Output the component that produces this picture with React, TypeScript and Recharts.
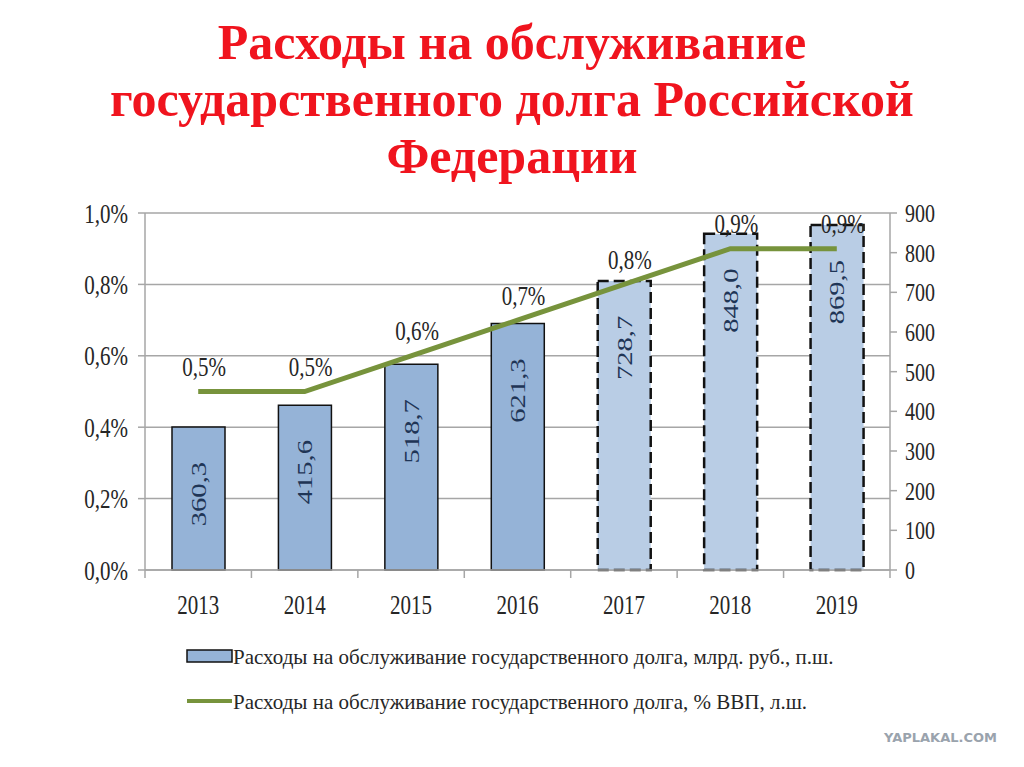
import React from "react";
import {
  ComposedChart,
  Bar,
  Line,
  XAxis,
  YAxis,
  CartesianGrid,
  LabelList,
  Rectangle,
} from "recharts";

const YEARS = ["2013", "2014", "2015", "2016", "2017", "2018", "2019"];
const SPENDING = [360.3, 415.6, 518.7, 621.3, 728.7, 848.0, 869.5];
const SHARE_GDP = [0.5, 0.5, 0.6, 0.7, 0.8, 0.9, 0.9];
const FORECAST = [false, false, false, false, true, true, true];

const PCT_TICKS = [0, 0.2, 0.4, 0.6, 0.8, 1.0];
const RUB_TICKS = [0, 100, 200, 300, 400, 500, 600, 700, 800, 900];

const TITLE = [
  "Расходы на обслуживание",
  "государственного долга Российской",
  "Федерации",
];
const LEGEND_BAR = "Расходы на обслуживание государственного долга, млрд. руб., п.ш.";
const LEGEND_LINE = "Расходы на обслуживание государственного долга, % ВВП, л.ш.";

const data = YEARS.map((year, i) => ({
  year,
  spending: SPENDING[i],
  share: SHARE_GDP[i],
  forecast: FORECAST[i],
}));

const W = 1024;
const H = 767;
const PLOT_LEFT = 145;
const PLOT_RIGHT = 890;
const PLOT_TOP = 213;
const PLOT_BOTTOM = 570;
const BAND = (PLOT_RIGHT - PLOT_LEFT) / YEARS.length;

const SERIF = "'Liberation Serif', 'Times New Roman', serif";
const GRID = "#a6a6a6";
const STRETCH = 1.3;

const comma = (v: number, digits: number) => v.toFixed(digits).replace(".", ",");

// text squeezed like the original (tall, narrow glyphs)
function Txt({ x, y, children, anchor = "middle", size = 21, fill = "#262626", stretch = STRETCH }: any) {
  return (
    <text
      transform={`translate(${x},${y}) scale(1,${stretch})`}
      textAnchor={anchor}
      dominantBaseline="central"
      fontFamily={SERIF}
      fontSize={size}
      fill={fill}
    >
      {children}
    </text>
  );
}

function YearTick({ x, y, payload, index }: any) {
  const last = index === YEARS.length - 1;
  return (
    <g>
      <line x1={x - BAND / 2} x2={x - BAND / 2} y1={y} y2={y + 8} stroke={GRID} strokeWidth={1.5} />
      {last && (
        <line x1={x + BAND / 2} x2={x + BAND / 2} y1={y} y2={y + 8} stroke={GRID} strokeWidth={1.5} />
      )}
      <Txt x={x} y={y + 34} size={21}>
        {payload.value}
      </Txt>
    </g>
  );
}

function PctTick({ x, y, payload }: any) {
  return (
    <Txt x={x} y={y} anchor="end" size={21}>
      {comma(payload.value, 1) + "%"}
    </Txt>
  );
}

function RubTick({ x, y, payload }: any) {
  return (
    <Txt x={x} y={y} anchor="start" size={20}>
      {payload.value}
    </Txt>
  );
}

function BarValue({ x, y, width, value }: any) {
  const cx = x + width / 2;
  const cy = y + 67;
  return (
    <text
      transform={`translate(${cx},${cy}) rotate(-90) scale(${STRETCH},1)`}
      textAnchor="middle"
      dominantBaseline="central"
      fontFamily={SERIF}
      fontSize={22}
      fill="#1f3556"
    >
      {comma(value, 1)}
    </text>
  );
}

function ShareValue({ x, y, value }: any) {
  return (
    <Txt x={x + 6} y={y - 25} size={21}>
      {comma(value, 1) + "%"}
    </Txt>
  );
}

function BarShape(props: any) {
  const f = props.payload.forecast;
  return (
    <Rectangle
      x={props.x}
      y={props.y}
      width={props.width}
      height={props.height}
      fill={f ? "#b9cde5" : "#95b3d7"}
      stroke="#111"
      strokeWidth={f ? 2.5 : 1.5}
      strokeDasharray={f ? "11 5" : undefined}
    />
  );
}

export default function App() {
  return (
    <div style={{ position: "absolute", left: 0, top: 0, width: W, height: H, background: "#fff" }}>
      <div
        style={{
          position: "absolute",
          left: 0,
          top: 14,
          width: W,
          textAlign: "center",
          fontFamily: SERIF,
          fontWeight: "bold",
          fontSize: 50,
          lineHeight: "57px",
          color: "#f0141e",
        }}
      >
        {TITLE.map((t) => (
          <div key={t}>{t}</div>
        ))}
      </div>

      <div style={{ position: "absolute", left: 0, top: 0 }}>
        <ComposedChart
          width={W}
          height={H}
          data={data}
          margin={{ top: PLOT_TOP, right: W - PLOT_RIGHT - 60, bottom: H - PLOT_BOTTOM - 30, left: PLOT_LEFT - 60 }}
          barSize={53}
        >
          <CartesianGrid yAxisId="pct" vertical={false} stroke={GRID} strokeWidth={1.5} />
          <XAxis
            dataKey="year"
            height={30}
            tickSize={0}
            tickMargin={0}
            tickLine={false}
            axisLine={{ stroke: GRID, strokeWidth: 1.5 }}
            tick={<YearTick />}
            interval={0}
          />
          <YAxis
            yAxisId="pct"
            width={60}
            domain={[0, 1]}
            ticks={PCT_TICKS}
            tickSize={7}
            tickMargin={10}
            tickLine={{ stroke: GRID, strokeWidth: 1.5 }}
            axisLine={{ stroke: GRID, strokeWidth: 1.5 }}
            tick={<PctTick />}
          />
          <YAxis
            yAxisId="rub"
            orientation="right"
            width={60}
            domain={[0, 900]}
            ticks={RUB_TICKS}
            tickSize={7}
            tickMargin={8}
            tickLine={{ stroke: GRID, strokeWidth: 1.5 }}
            axisLine={{ stroke: GRID, strokeWidth: 1.5 }}
            tick={<RubTick />}
          />
          <Bar yAxisId="rub" dataKey="spending" shape={<BarShape />} isAnimationActive={false}>
            <LabelList dataKey="spending" content={<BarValue />} />
          </Bar>
          <Line
            yAxisId="pct"
            dataKey="share"
            stroke="#77933c"
            strokeWidth={5}
            dot={false}
            activeDot={false}
            isAnimationActive={false}
          >
            <LabelList dataKey="share" content={<ShareValue />} />
          </Line>
        </ComposedChart>
      </div>

      <svg style={{ position: "absolute", left: 0, top: 0 }} width={W} height={H} pointerEvents="none">
        <rect x={187} y={650} width={45} height={12} fill="#95b3d7" stroke="#111" strokeWidth={1.5} />
        <Txt x={233} y={657} anchor="start" size={21} stretch={1}>
          {LEGEND_BAR}
        </Txt>
        <line x1={187} x2={232} y1={701} y2={701} stroke="#77933c" strokeWidth={4} />
        <Txt x={233} y={702} anchor="start" size={21} stretch={1}>
          {LEGEND_LINE}
        </Txt>
        <text x={997} y={742} textAnchor="end" fontFamily="'DejaVu Sans', sans-serif" fontWeight="bold" fontSize={13} fill="#9aa3ad">
          YAPLAKAL.COM
        </text>
      </svg>
    </div>
  );
}
